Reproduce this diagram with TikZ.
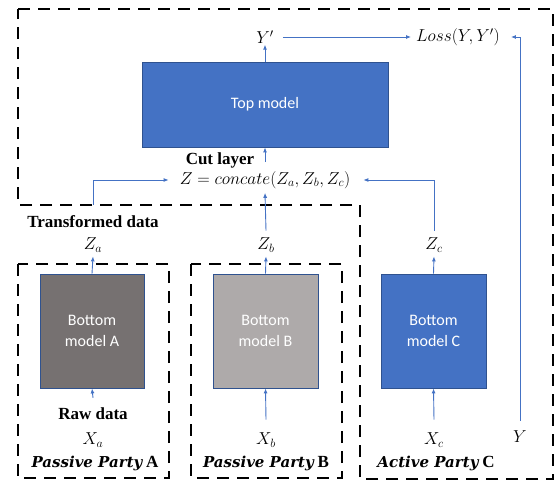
\documentclass[tikz,border=0pt]{standalone}
\usepackage{fontspec}
\setmainfont{Liberation Serif}
\newfontfamily\calibri{Carlito}
\newfontfamily\dvs{DejaVu Serif}
\usetikzlibrary{arrows.meta}
\definecolor{bblue}{HTML}{4472C4}
\definecolor{bord}{HTML}{2F528F}
\definecolor{dgray}{HTML}{767171}
\definecolor{lgray}{HTML}{AEAAAA}
\begin{document}
\begin{tikzpicture}[x=1pt,y=-1pt,
  model/.style={draw=bord, line width=0.8pt, text=white, font=\calibri\fontsize{16}{21}\selectfont, align=center, inner sep=0pt},
  lbl/.style={inner sep=1pt, font=\fontsize{18}{21}\selectfont},
  boldlbl/.style={inner sep=1pt, font=\bfseries\fontsize{17}{20}\selectfont},
  party/.style={inner sep=1pt, font=\fontsize{15}{18}\selectfont},
  arr/.style={draw=bblue, line width=0.9pt, -{Latex[length=5pt,width=4pt]}},
  frame/.style={draw=black, line width=2.6pt, dash pattern=on 12pt off 8pt}]
\useasboundingbox (0,0) rectangle (555,482);
% frames
\draw[frame] (18,9) -- (553,9) -- (553,479) -- (360,479) -- (360,205) -- (18,205) -- cycle;
\draw[frame] (18,264) rectangle (169,478);
\draw[frame] (191,264) rectangle (342,478);
% model boxes
\node[model, fill=bblue, minimum width=246pt, minimum height=85pt] (top) at (265,104.5) {Top model};
\node[model, fill=dgray, minimum width=104pt, minimum height=114pt] (ba) at (92,331) {Bottom\\model A};
\node[model, fill=lgray, minimum width=105pt, minimum height=114pt] (bb) at (265.5,331) {Bottom\\model B};
\node[model, fill=bblue, minimum width=105pt, minimum height=114pt] (bc) at (433.5,331) {Bottom\\model C};
% labels
\node[lbl] (yp) at (265,37) {$Y'$};
\node[lbl] (loss) at (458,37) {$Loss(Y,Y')$};
\node[boldlbl] (cut) at (220,160) {Cut layer};
\node[lbl] (z) at (265,180) {$Z = concate(Z_a,Z_b,Z_c)$};
\node[boldlbl] (tr) at (93,222) {Transformed data};
\node[lbl] (za) at (93,245) {$Z_a$};
\node[lbl] (zb) at (266,245) {$Z_b$};
\node[lbl] (zc) at (434,245) {$Z_c$};
\node[boldlbl] (raw) at (93,414) {Raw data};
\node[lbl] (xa) at (93,440) {$X_a$};
\node[lbl] (xb) at (266,440) {$X_b$};
\node[lbl] (xc) at (434,440) {$X_c$};
\node[lbl] (y) at (520,437) {$Y$};
\node[party] (pa) at (95,463) {{\dvs\bfseries\itshape Passive Party} {\bfseries\fontsize{17}{19}\selectfont A}};
\node[party] (pb) at (266,463) {{\dvs\bfseries\itshape Passive Party} {\bfseries\fontsize{17}{19}\selectfont B}};
\node[party] (pc) at (436,463) {{\dvs\bfseries\itshape Active Party} {\bfseries\fontsize{17}{19}\selectfont C}};
% connectors
\coordinate (as) at (93,205);
\draw[arr] (top.north) -- (yp.south);
\draw[arr] ([xshift=8pt]yp.east) -- ([xshift=-4pt]loss.west);
\draw[arr] ([yshift=9pt]y.north) |- ([xshift=10pt]loss.east);
\draw[arr] ([yshift=8pt]z.north) -- (top.south);
\draw[arr] ([yshift=6pt]zb.north) -- ([yshift=-3pt]z.south);
\draw[arr] (as) |- ([xshift=-10pt]z.west);
\draw[arr] ([yshift=6pt]zc.north) |- ([xshift=12pt]z.east);
\draw[arr] (ba.north) -- ([yshift=-3pt]za.south);
\draw[arr] (bb.north) -- ([yshift=-3pt]zb.south);
\draw[arr] (bc.north) -- ([yshift=-3pt]zc.south);
\draw[arr] ([yshift=9pt]raw.north) -- (ba.south);
\draw[arr] ([yshift=12pt]xb.north) -- (bb.south);
\draw[arr] ([yshift=12pt]xc.north) -- (bc.south);
\end{tikzpicture}
\end{document}
